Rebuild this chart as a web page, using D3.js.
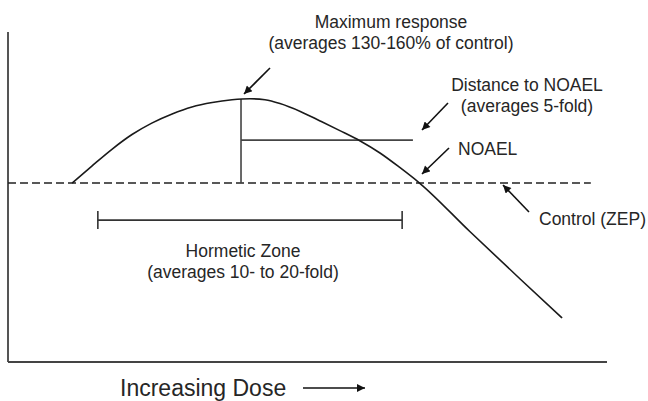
<!DOCTYPE html>
<html>
<head>
<meta charset="utf-8">
<script src="https://cdn.jsdelivr.net/npm/d3@7"></script>
<style>
	body { margin: 0; background: #fff; }
	text { font-family: "Liberation Sans", Arial, sans-serif; fill: #262626; }
</style>
</head>
<body>
<div id="chart"></div>
<script>
// dose (0-100, arbitrary) vs response (% of control)
const curveDose     = [10.7, 14.0, 17.4, 20.7, 24.0, 27.4, 30.7, 34.1, 37.4, 40.4, 42.9, 45.4, 48.8, 52.1, 55.4, 58.8, 62.1, 65.4, 68.7, 77.1, 85.5, 92.5];
const curveResponse = [100, 109.5, 119.0, 127.1, 133.5, 138.6, 142.5, 145.0, 146.5, 147.1, 146.5, 144.4, 140.0, 134.7, 129.3, 123.5, 116.8, 108.7, 100, 72.9, 46.4, 24.6];

const controlLevel = 100;
const controlEnd = 97.3;
const peakDose = 38.9, peakResponse = 147.0;
const noaelLineEnd = 67.6, noaelLineResponse = 124;
const hormeticZone = [15.0, 65.8];
const hormeticResponse = 79.3;

const labelMax = ['Maximum response', '(averages 130-160% of control)'];
const labelDist = ['Distance to NOAEL', '(averages 5-fold)'];
const labelNoael = 'NOAEL';
const labelControl = 'Control (ZEP)';
const labelZone = ['Hormetic Zone', '(averages 10- to 20-fold)'];
const labelX = 'Increasing Dose';

const W = 648, H = 401;
const yTop = 184.4;
const x = d3.scaleLinear().domain([0, 100]).range([8, 607]);
const y = d3.scaleLinear().domain([0, yTop]).range([362, 32]);

const svg = d3.select('#chart').append('svg')
	.attr('width', W)
	.attr('height', H);

svg.append('defs').append('marker')
	.attr('id', 'head')
	.attr('viewBox', '0 0 10 10')
	.attr('refX', 10).attr('refY', 5)
	.attr('markerWidth', 9).attr('markerHeight', 8)
	.attr('markerUnits', 'userSpaceOnUse')
	.attr('orient', 'auto')
	.append('path')
	.attr('d', 'M0,0L10,5L0,10Z')
	.attr('fill', '#111');

//axes (no ticks)
svg.append('line')
	.attr('x1', x(0)).attr('x2', x(0))
	.attr('y1', y(0)).attr('y2', y(yTop))
	.attr('stroke', '#555').attr('stroke-width', 2);
svg.append('line')
	.attr('x1', x(0)).attr('x2', x(100))
	.attr('y1', y(0)).attr('y2', y(0))
	.attr('stroke', '#444').attr('stroke-width', 2);

//control line
svg.append('line')
	.attr('x1', x(0)).attr('x2', x(controlEnd))
	.attr('y1', y(controlLevel)).attr('y2', y(controlLevel))
	.attr('stroke', '#222').attr('stroke-width', 1.6)
	.attr('stroke-dasharray', '8,4');

//max response + distance lines
svg.append('line')
	.attr('x1', x(peakDose)).attr('x2', x(peakDose))
	.attr('y1', y(controlLevel)).attr('y2', y(peakResponse))
	.attr('stroke', '#444').attr('stroke-width', 1.6);
svg.append('line')
	.attr('x1', x(peakDose)).attr('x2', x(noaelLineEnd))
	.attr('y1', y(noaelLineResponse)).attr('y2', y(noaelLineResponse))
	.attr('stroke', '#444').attr('stroke-width', 1.6);

//curve
const pts = curveDose.map((d, i) => [d, curveResponse[i]]);
svg.append('path')
	.datum(pts)
	.attr('fill', 'none')
	.attr('stroke', '#1a1a1a')
	.attr('stroke-width', 1.6)
	.attr('d', d3.line().x(d => x(d[0])).y(d => y(d[1])).curve(d3.curveMonotoneX));

//hormetic zone bar
const zone = svg.append('g').attr('stroke', '#333').attr('stroke-width', 1.6);
zone.append('line')
	.attr('x1', x(hormeticZone[0])).attr('x2', x(hormeticZone[1]))
	.attr('y1', y(hormeticResponse)).attr('y2', y(hormeticResponse));
zone.selectAll('.tick').data(hormeticZone).enter().append('line')
	.attr('class', 'tick')
	.attr('x1', d => x(d)).attr('x2', d => x(d))
	.attr('y1', y(hormeticResponse) - 9).attr('y2', y(hormeticResponse) + 9);

//annotation arrows [from, to] in px
const arrows = [
	[[270, 68], [244, 94]],
	[[448, 103], [422, 130]],
	[[449, 148], [422, 174]],
	[[529, 212], [503, 185]],
	[[303, 388], [365, 388]]
];
svg.selectAll('.arrow').data(arrows).enter().append('line')
	.attr('class', 'arrow')
	.attr('x1', d => d[0][0]).attr('y1', d => d[0][1])
	.attr('x2', d => d[1][0]).attr('y2', d => d[1][1])
	.attr('stroke', '#111').attr('stroke-width', 1.6)
	.attr('marker-end', 'url(#head)');

//labels
function label(lines, cx, y0, anchor, size) {
	const t = svg.append('text')
		.attr('text-anchor', anchor)
		.style('font-size', size + 'px');
	[].concat(lines).forEach((s, i) => {
		t.append('tspan').attr('x', cx).attr('y', y0 + i * 21).text(s);
	});
}
label(labelMax, 391, 28, 'middle', 17.5);
label(labelDist, 527, 91, 'middle', 17.5);
label(labelNoael, 458, 155, 'start', 17.5);
label(labelControl, 539, 225, 'start', 17.5);
label(labelZone, 243, 257, 'middle', 17.5);
label(labelX, 120, 396, 'start', 23);
</script>
</body>
</html>
